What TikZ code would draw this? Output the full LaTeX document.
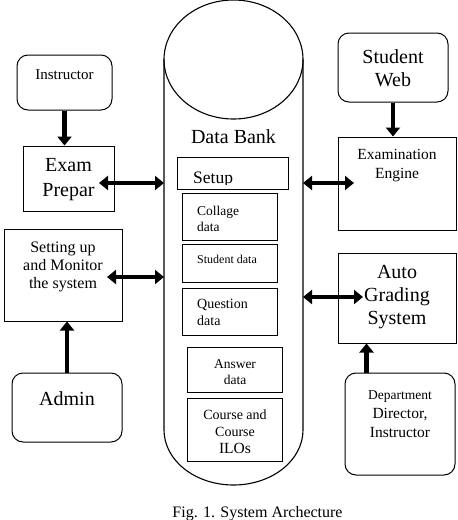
\documentclass[tikz,border=0pt]{standalone}
\usepackage{fontspec}
\setmainfont{Liberation Serif}
\usetikzlibrary{arrows.meta,calc}
\newcommand{\fsz}[2]{\fontsize{#1}{#2}\selectfont}
\begin{document}
\begin{tikzpicture}[x=1pt,y=-1pt,
  bx/.style n args={2}{draw,line width=1pt,inner sep=0pt,minimum width=#1,minimum height=#2},
  rbx/.style={rounded corners=11pt},
  arr/.style={line width=4.5pt,-{Triangle[length=9pt,width=14pt]}},
  darr/.style={line width=4.5pt,{Triangle[length=9pt,width=14pt]}-{Triangle[length=9pt,width=14pt]}},
  cyl/.style={line width=1.1pt}
]
\useasboundingbox[fill=white] (0,0) rectangle (458,520);

% cylinder (data bank)
\draw[cyl] (233.5,59.5) ellipse [x radius=69.5pt, y radius=59.5pt];
\draw[cyl] (164,59.5) -- (164,430)
  .. controls (164,460.4) and (195.1,485) .. (233.5,485)
  .. controls (271.9,485) and (303,460.4) .. (303,430) -- (303,59.5);
\node[font=\fsz{20}{24}] (dbT) at (233.5,137) {Data Bank};

% inner boxes
\node[bx={111pt}{32pt}] (setup) at (232.5,173) {};
\begin{scope}
  \clip (177,157) rectangle (288,184);
  \node[anchor=base west,inner sep=0pt,font=\fsz{17.5}{20}] (setupT) at (193,183.5) {Setup};
\end{scope}
\node[bx={95pt}{47pt}] (coll) at (229.5,216.5) {};
\node[anchor=west,align=left,inner sep=0pt,font=\fsz{13.5}{16}] (collT) at (197,219) {Collage\\data};
\node[bx={95pt}{38pt}] (stud) at (229.5,263) {};
\node[anchor=west,inner sep=0pt,font=\fsz{12}{14}] (studT) at (197,259) {Student data};
\node[bx={95pt}{47pt}] (ques) at (229.5,311.5) {};
\node[anchor=west,align=left,inner sep=0pt,font=\fsz{14}{17}] (quesT) at (197,312) {Question\\data};
\node[bx={95pt}{45pt}] (ans) at (234.5,369.5) {};
\node[align=center,inner sep=0pt,font=\fsz{13.5}{15.5}] (ansT) at (235,372) {Answer\\data};
\node[bx={95pt}{63pt}] (crs) at (234.5,429.5) {};
\node[align=center,inner sep=0pt,font=\fsz{14}{17}] (crsT) at (235,432) {Course and\\Course\\{\fsz{15.5}{17}ILOs}};

% left side
\node[bx={95pt}{55pt},rbx] (instr) at (64.5,82.5) {};
\node[font=\fsz{15}{18}] (instrT) at (64.5,75) {Instructor};
\node[bx={91pt}{65pt}] (exam) at (68.5,178.5) {};
\node[align=center,font=\fsz{20}{25}] (examT) at (68.5,180) {Exam\\Prepar};
\node[bx={118pt}{92pt}] (set) at (63,275) {};
\node[align=center,font=\fsz{16}{18}] (setT) at (63,267) {Setting up\\and Monitor\\the system};
\node[bx={110pt}{69pt},rbx] (admin) at (67,407.5) {};
\node[font=\fsz{20}{24}] (adminT) at (67,399) {Admin};

% right side
\node[bx={110pt}{69pt},rbx] (sw) at (393,67.5) {};
\node[align=center,font=\fsz{20}{23}] (swT) at (393,68) {Student\\Web};
\node[bx={118pt}{93pt}] (ee) at (397,183.5) {};
\node[align=center,font=\fsz{15.5}{19}] (eeT) at (397,166) {Examination\\Engine};
\node[bx={118pt}{90pt}] (ag) at (397,298) {};
\node[align=center,font=\fsz{20}{23}] (agT) at (397,297) {Auto\\Grading\\System};
\node[bx={110pt}{102pt},rbx] (dept) at (400,424) {};
\node[align=center,font=\fsz{15.5}{19}] (deptT) at (400,414) {{\fsz{13.5}{19}Department}\\Director,\\Instructor};

% caption
\node[anchor=base,inner sep=0pt,font=\fsz{16}{19}] (cap) at (257.5,517.5) {Fig. 1. System Archecture};

% connectors
\draw[arr] (instr.south) -- (instr.south |- exam.north);
\draw[arr] (admin.north) -- (admin.north |- set.south);
\draw[arr] (sw.south) -- (sw.south |- ee.north);
\coordinate (dtop) at ($(dept.north west)+(22,0)$);
\draw[arr] (dtop) -- (dtop |- ag.south);

\coordinate (exA) at (99,183);
\coordinate (cylA) at (164,183);
\draw[darr] (exA) -- (cylA);
\coordinate (setA) at (107,277);
\coordinate (cylB) at (164,277);
\draw[darr] (setA) -- (cylB);
\coordinate (cylC) at (303,183);
\coordinate (eeA) at (354,183);
\draw[darr] (cylC) -- (eeA);
\coordinate (cylD) at (303,297);
\coordinate (agA) at (363,297);
\draw[darr] (cylD) -- (agA);
\end{tikzpicture}
\end{document}
